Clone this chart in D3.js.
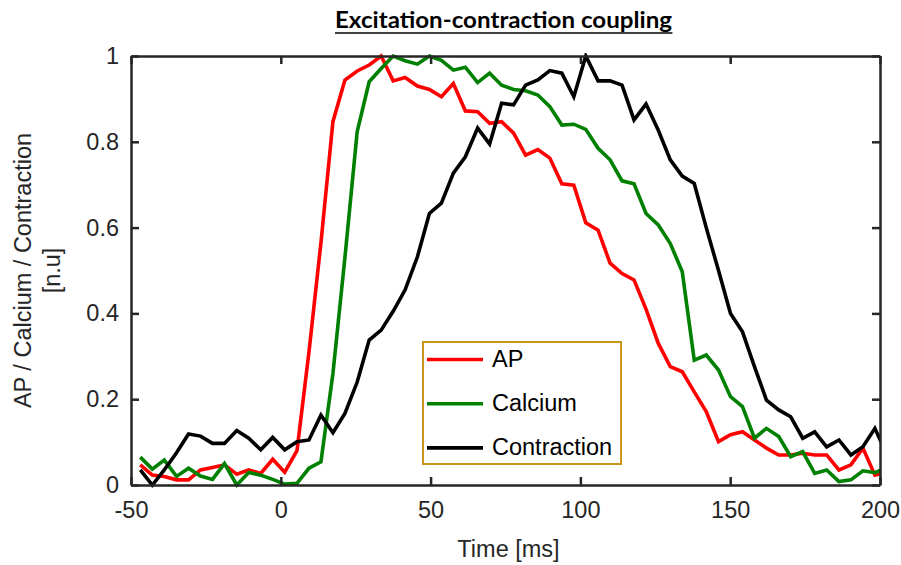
<!DOCTYPE html>
<html>
<head>
<meta charset="utf-8">
<script src="https://cdn.jsdelivr.net/npm/d3@7"></script>
<style>
  html, body { margin: 0; padding: 0; background: #fff; }
  svg { display: block; }
</style>
</head>
<body>
<svg id="chart" width="901" height="565"></svg>
<script>
// ---- data ----
const time = [-46.9,-42.9,-38.9,-34.8,-30.8,-26.8,-22.8,-18.8,-14.7,-10.7,-6.7,-2.7,1.3,5.4,9.4,13.4,17.4,21.4,25.5,29.5,
  33.5,37.5,41.5,45.6,49.6,53.6,57.6,61.6,65.7,69.7,73.7,77.7,81.7,85.8,89.8,93.8,97.8,101.8,105.9,109.9,
  113.9,117.9,121.9,126.0,130.0,134.0,138.0,142.0,146.1,150.1,154.1,158.1,162.1,166.2,170.2,174.2,178.2,182.2,186.3,190.3,
  194.3,198.3,202.3];

const apValues = [0.047,0.023,0.020,0.012,0.012,0.035,0.041,0.047,0.025,0.035,0.027,0.060,0.030,0.080,0.310,0.565,0.847,0.944,0.965,0.979,
  1.000,0.942,0.950,0.930,0.922,0.905,0.936,0.872,0.870,0.843,0.847,0.820,0.769,0.782,0.762,0.702,0.699,0.611,0.594,0.517,
  0.493,0.478,0.410,0.330,0.276,0.264,0.217,0.171,0.101,0.117,0.124,0.105,0.086,0.070,0.070,0.074,0.070,0.070,0.035,0.047,
  0.086,0.023,0.030];

const calciumValues = [0.065,0.037,0.058,0.020,0.039,0.021,0.013,0.050,0.000,0.029,0.023,0.013,0.002,0.004,0.039,0.054,0.260,0.530,0.824,0.940,
  0.971,1.000,0.989,0.981,1.000,0.990,0.967,0.974,0.938,0.960,0.932,0.922,0.919,0.909,0.882,0.839,0.841,0.829,0.785,0.758,
  0.709,0.702,0.633,0.606,0.563,0.497,0.291,0.303,0.268,0.206,0.183,0.109,0.132,0.113,0.066,0.078,0.027,0.035,0.008,0.012,
  0.033,0.029,0.040];

const contractionValues = [0.035,0.000,0.035,0.075,0.119,0.114,0.097,0.097,0.127,0.109,0.082,0.111,0.082,0.101,0.105,0.163,0.122,0.167,0.240,0.338,
  0.361,0.405,0.455,0.532,0.633,0.657,0.727,0.765,0.832,0.795,0.890,0.886,0.932,0.944,0.966,0.960,0.905,1.000,0.942,0.942,
  0.932,0.851,0.888,0.827,0.758,0.720,0.703,0.600,0.500,0.400,0.357,0.276,0.198,0.175,0.159,0.109,0.124,0.089,0.105,0.070,
  0.089,0.132,0.070];

const seriesNames = ["AP", "Calcium", "Contraction"];
const seriesColors = ["#ff0000", "#008000", "#000000"];
const xTicks = [-50, 0, 50, 100, 150, 200];
const xTickLabels = ["-50", "0", "50", "100", "150", "200"];
const yTicks = [0, 0.2, 0.4, 0.6, 0.8, 1];
const yTickLabels = ["0", "0.2", "0.4", "0.6", "0.8", "1"];
const titleText = "Excitation-contraction coupling";
const xLabel = "Time [ms]";
const yLabelLines = ["AP / Calcium / Contraction", "[n.u]"];

// ---- layout ----
const svg = d3.select("#chart");
const L = 131, R = 880, T = 56, B = 485;
const axisColor = "#262626";
const fontMain = "'Liberation Sans', Arial, Helvetica, sans-serif";
const fs = 23.5;

const x = d3.scaleLinear().domain([-50, 200]).range([L, R]);
const y = d3.scaleLinear().domain([0, 1]).range([B, T]);

svg.append("defs").append("clipPath").attr("id", "plotclip")
  .append("rect").attr("x", L).attr("y", T - 3).attr("width", R - L).attr("height", B - T + 6);

// lines
const series = [apValues, calciumValues, contractionValues];
const line = d3.line().x((d, i) => x(time[i])).y(d => y(d));
const g = svg.append("g").attr("clip-path", "url(#plotclip)");
series.forEach((vals, si) => {
  g.append("path")
    .datum(vals)
    .attr("d", line)
    .attr("fill", "none")
    .attr("stroke", seriesColors[si])
    .attr("stroke-width", 3.6)
    .attr("stroke-linejoin", "miter")
    .attr("stroke-miterlimit", 3);
});

// axes
function styleAxis(sel) {
  sel.selectAll("path.domain").attr("stroke", axisColor).attr("stroke-width", 2.5);
  sel.selectAll(".tick line").attr("stroke", axisColor).attr("stroke-width", 2.5);
  sel.selectAll(".tick text").attr("fill", axisColor)
    .style("font-family", fontMain).style("font-size", fs + "px");
}
const ax = svg.append("g").attr("transform", `translate(0,${B})`)
  .call(d3.axisBottom(x).tickValues(xTicks).tickFormat((d, i) => xTickLabels[i])
    .tickSizeInner(-8).tickSizeOuter(0).tickPadding(16));
styleAxis(ax);
const axT = svg.append("g").attr("transform", `translate(0,${T})`)
  .call(d3.axisTop(x).tickValues(xTicks).tickFormat("").tickSizeInner(-8).tickSizeOuter(0));
styleAxis(axT);
const ay = svg.append("g").attr("transform", `translate(${L},0)`)
  .call(d3.axisLeft(y).tickValues(yTicks).tickFormat((d, i) => yTickLabels[i])
    .tickSizeInner(-8).tickSizeOuter(0).tickPadding(12));
styleAxis(ay);
const ayR = svg.append("g").attr("transform", `translate(${R},0)`)
  .call(d3.axisRight(y).tickValues(yTicks).tickFormat("").tickSizeInner(-8).tickSizeOuter(0));
styleAxis(ayR);
svg.selectAll(".domain").attr("fill", "none");

// title
const title = svg.append("text")
  .attr("x", 503.5).attr("y", 28)
  .attr("text-anchor", "middle")
  .style("font-family", "Lato, 'Open Sans', sans-serif")
  .style("font-weight", "bold")
  .style("font-size", "22px")
  .attr("fill", "#000")
  .attr("textLength", 337)
  .attr("lengthAdjust", "spacingAndGlyphs")
  .text(titleText);
const tb = title.node().getBBox();
svg.append("line")
  .attr("x1", tb.x).attr("x2", tb.x + tb.width)
  .attr("y1", 33).attr("y2", 33)
  .attr("stroke", "#000").attr("stroke-width", 1.6);

// x label
svg.append("text")
  .attr("x", (L + R) / 2 + 3).attr("y", 557)
  .attr("text-anchor", "middle")
  .style("font-family", fontMain).style("font-size", fs + "px")
  .attr("fill", axisColor)
  .text(xLabel);

// y label (two lines, rotated)
const yl = svg.append("text")
  .attr("transform", `translate(31,${(T + B) / 2}) rotate(-90)`)
  .attr("text-anchor", "middle")
  .style("font-family", fontMain).style("font-size", fs + "px")
  .attr("fill", axisColor);
yLabelLines.forEach((t, i) => {
  yl.append("tspan").attr("x", 0).attr("y", i * 29).text(t);
});

// legend
const lg = svg.append("g");
lg.append("rect")
  .attr("x", 423).attr("y", 342).attr("width", 198).attr("height", 122)
  .attr("fill", "#fff").attr("stroke", "#c8961a").attr("stroke-width", 2);
seriesNames.forEach((name, i) => {
  const ly = 359.5 + i * 44.2;
  lg.append("line")
    .attr("x1", 427).attr("x2", 483).attr("y1", ly).attr("y2", ly)
    .attr("stroke", seriesColors[i]).attr("stroke-width", 3.6);
  lg.append("text")
    .attr("x", 492).attr("y", ly + 7)
    .style("font-family", fontMain).style("font-size", fs + "px")
    .attr("fill", "#000")
    .text(name);
});
</script>
</body>
</html>
